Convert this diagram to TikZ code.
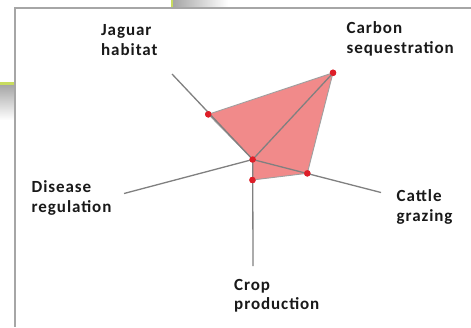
\documentclass[tikz,border=0pt]{standalone}
\usepackage{fontspec}
\setmainfont{Carlito}
\newfontfamily\labelfont{Carlito}[LetterSpace=5.5]
\begin{document}
\begin{tikzpicture}[x=1pt,y=-1pt,
  axisline/.style={draw=axisgray,line width=1.3pt},
  datadot/.style={circle,fill=dotred,inner sep=0pt,minimum size=6.5pt},
  axislabel/.style={anchor=north west,inner sep=0pt,align=left,
    font=\labelfont\fontsize{17}{19.5}\selectfont\bfseries,text=black!90},
  frameline/.style={fill=framegray,draw=none}]
\definecolor{axisgray}{RGB}{128,128,128}
\definecolor{edgegray}{RGB}{160,160,160}
\definecolor{polyfill}{RGB}{241,138,138}
\definecolor{dotred}{RGB}{222,30,40}
\definecolor{framegray}{RGB}{166,166,166}
\definecolor{tabgreen}{RGB}{200,220,95}
\useasboundingbox (0,0) rectangle (471,327);
\fill[white] (0,0) rectangle (471,327);

% window frame and neighbouring tabs
\shade[left color=framegray,right color=white] (173,0) rectangle (228,7);
\fill[tabgreen] (171,0) rectangle (173,7);
\shade[top color=framegray,bottom color=white] (0,85) rectangle (14,120);
\fill[tabgreen] (0,82) rectangle (14,85);
\path[frameline] (14,7) rectangle (471,9.2);
\path[frameline] (14,7) rectangle (16.2,327);

% axis ends
\coordinate (O) at (252.7,159.5);
\coordinate (jagEnd) at (172,74);
\coordinate (carEnd) at (333,73);
\coordinate (catEnd) at (381,192.5);
\coordinate (croEnd) at (253,266);
\coordinate (disEnd) at (124,193.5);

% data values
\node[datadot] (jag) at (208.3,114.3) {};
\node[datadot] (car) at (333,72.8) {};
\node[datadot] (cat) at (307.3,173.3) {};
\node[datadot] (cro) at (252.5,180) {};
\node[datadot] (dis) at (O) {};

% value polygon
\fill[polyfill,draw=edgegray,line width=0.9pt,line join=round]
  (jag.center) -- (car.center) -- (cat.center) -- (cro.center) -- (dis.center) -- cycle;

% axes
\draw[axisline] (O) -- (jagEnd);
\draw[axisline] (O) -- (carEnd);
\draw[axisline] (O) -- (catEnd);
\draw[axisline] (O) -- (croEnd);
\draw[axisline] (O) -- (disEnd);

% dots on top
\foreach \p in {jag,car,cat,cro,dis}
  \fill[dotred] (\p.center) circle (3.2pt);

% labels
\node[axislabel] (jagLbl) at (101,24.5) {Jaguar\\habitat};
\node[axislabel] (carLbl) at (346.5,21.5) {Carbon\\sequestration};
\node[axislabel] (disLbl) at (31.5,180.5) {Disease\\regulation};
\node[axislabel] (catLbl) at (396.5,189.5) {Cattle\\grazing};
\node[axislabel] (croLbl) at (234,279) {Crop\\production};
\end{tikzpicture}
\end{document}
